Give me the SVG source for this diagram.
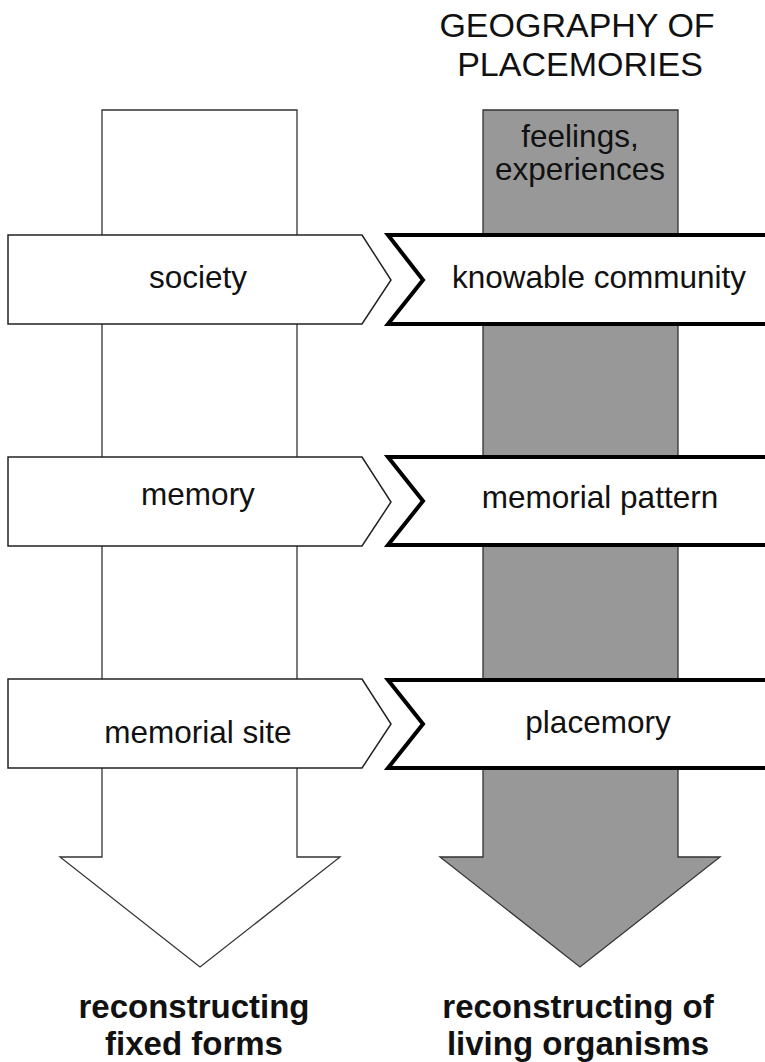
<svg xmlns="http://www.w3.org/2000/svg" width="765" height="1062" viewBox="0 0 765 1062">
<style>
text{font-family:"Liberation Sans",Arial,sans-serif;fill:#111;text-anchor:middle}
.t{font-size:31.5px}
.title{font-size:34px}
.b{font-size:33px;font-weight:bold}
.arrowL{fill:#fff;stroke:#333;stroke-width:1.3}
.arrowR{fill:#989898;stroke:#333;stroke-width:1.3}
.pent{fill:#fff;stroke:#222;stroke-width:1.5}
.chev{fill:#fff;stroke:#000;stroke-width:4;stroke-linejoin:miter}
</style>
<rect width="765" height="1062" fill="#fff"/>
<g id="title"><text class="title" x="577" y="37">GEOGRAPHY OF</text><text class="title" x="580" y="76">PLACEMORIES</text></g>
<g id="arrow-left"><polygon class="arrowL" points="102,110 297,110 297,857 340,857 200,967 60,857 102,857"/></g>
<g id="arrow-right"><polygon class="arrowR" points="483,110 678,110 678,857 720,857 580,967 440,857 483,857"/>
<text class="t" x="580" y="147">feelings,</text><text class="t" x="580" y="180">experiences</text></g>
<g id="society"><polygon class="pent" points="8,235 362,235 391,280 362,324 8,324"/><text class="t" x="198" y="288">society</text></g>
<g id="knowable-community"><polygon class="chev" points="388,235 775,235 775,324 388,324 423,280"/><text class="t" x="599" y="288">knowable community</text></g>
<g id="memory"><polygon class="pent" points="8,457 362,457 391,502 362,546 8,546"/><text class="t" x="198" y="505">memory</text></g>
<g id="memorial-pattern"><polygon class="chev" points="388,457 775,457 775,545 388,545 423,501"/><text class="t" x="600" y="508">memorial pattern</text></g>
<g id="memorial-site"><polygon class="pent" points="8,679 362,679 391,724 362,768 8,768"/><text class="t" x="198" y="743">memorial site</text></g>
<g id="placemory"><polygon class="chev" points="388,680 775,680 775,768 388,768 423,724"/><text class="t" x="598" y="733">placemory</text></g>
<g id="connectors"></g>
<g id="labels-bottom"><text class="b" x="194" y="1018">reconstructing</text><text class="b" x="194" y="1055">fixed forms</text>
<text class="b" x="578" y="1018">reconstructing of</text><text class="b" x="578" y="1055">living organisms</text></g>
</svg>
